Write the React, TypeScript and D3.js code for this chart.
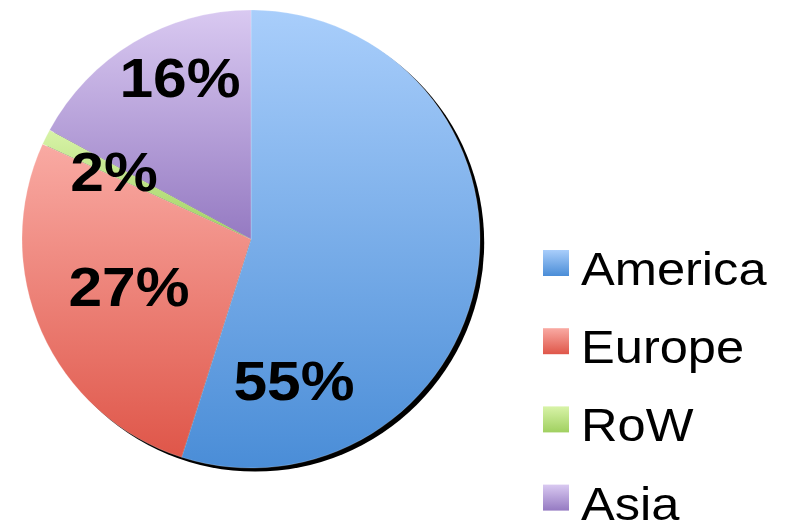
import React from "react";
import * as d3 from "d3";

const categories = ["America", "Europe", "RoW", "Asia"];
const values = [54.9, 26.9, 1.1, 17.1];
const labels = ["55%", "27%", "2%", "16%"];
const topColors = ["#a9cefb", "#f9aaa3", "#d8f3a8", "#d9c9f1"];
const bottomColors = ["#4a8dd7", "#df5649", "#a0d060", "#957ac2"];

const W = 791;
const H = 523;
const cx = 251;
const cy = 239;
const R = 229;

// label positions (ink centers / baselines)
const labelPos: [number, number][] = [
  [294, 400],
  [129, 306],
  [114, 191],
  [180, 97],
];

export default function App() {
  const pie = d3
    .pie<number>()
    .sort(null)
    .value((d) => d)
    .startAngle(0)
    .endAngle(2 * Math.PI);
  const arcs = pie(values);
  const arc = d3.arc<d3.PieArcDatum<number>>().innerRadius(0).outerRadius(R);

  const legendX = 543;
  const legendY0 = 250;
  const legendStep = 78.2;
  const sq = 26;

  return (
    <svg
      width={W}
      height={H}
      style={{ position: "absolute", left: 0, top: 0, background: "#fff" }}
    >
      <defs>
        {categories.map((c, i) => (
          <linearGradient key={c} id={`g${i}`} x1="0" y1="0" x2="0" y2="1">
            <stop offset="0" stopColor={topColors[i]} />
            <stop offset="1" stopColor={bottomColors[i]} />
          </linearGradient>
        ))}
        <filter id="blur" x="-10%" y="-10%" width="120%" height="120%">
          <feGaussianBlur stdDeviation="0.6" />
        </filter>
      </defs>
      <g transform={`translate(${cx},${cy})`}>
        <circle cx={4.2} cy={3.6} r={R} fill="#000" filter="url(#blur)" />
        {arcs.map((a, i) => (
          <path
            key={categories[i]}
            d={arc(a) || ""}
            fill={`url(#g${i})`}
            stroke="#ffffff"
            strokeOpacity={0.35}
            strokeWidth={0.6}
          />
        ))}
      </g>
      {labels.map((l, i) => (
        <text
          key={l}
          transform={`translate(${labelPos[i][0]},${labelPos[i][1]}) scale(1.1,1)`}
          textAnchor="middle"
          fontFamily="'Liberation Sans', Arial, sans-serif"
          fontWeight="bold"
          fontSize={55}
          fill="#000"
        >
          {l}
        </text>
      ))}
      {categories.map((c, i) => (
        <g key={c}>
          <rect
            x={legendX}
            y={legendY0 + i * legendStep}
            width={sq}
            height={sq}
            fill={`url(#g${i})`}
          />
          <text
            transform={`translate(581,${legendY0 + 35 + i * legendStep}) scale(1.1,1)`}
            fontFamily="'Liberation Sans', Arial, sans-serif"
            fontSize={46}
            fill="#000"
          >
            {c}
          </text>
        </g>
      ))}
    </svg>
  );
}
